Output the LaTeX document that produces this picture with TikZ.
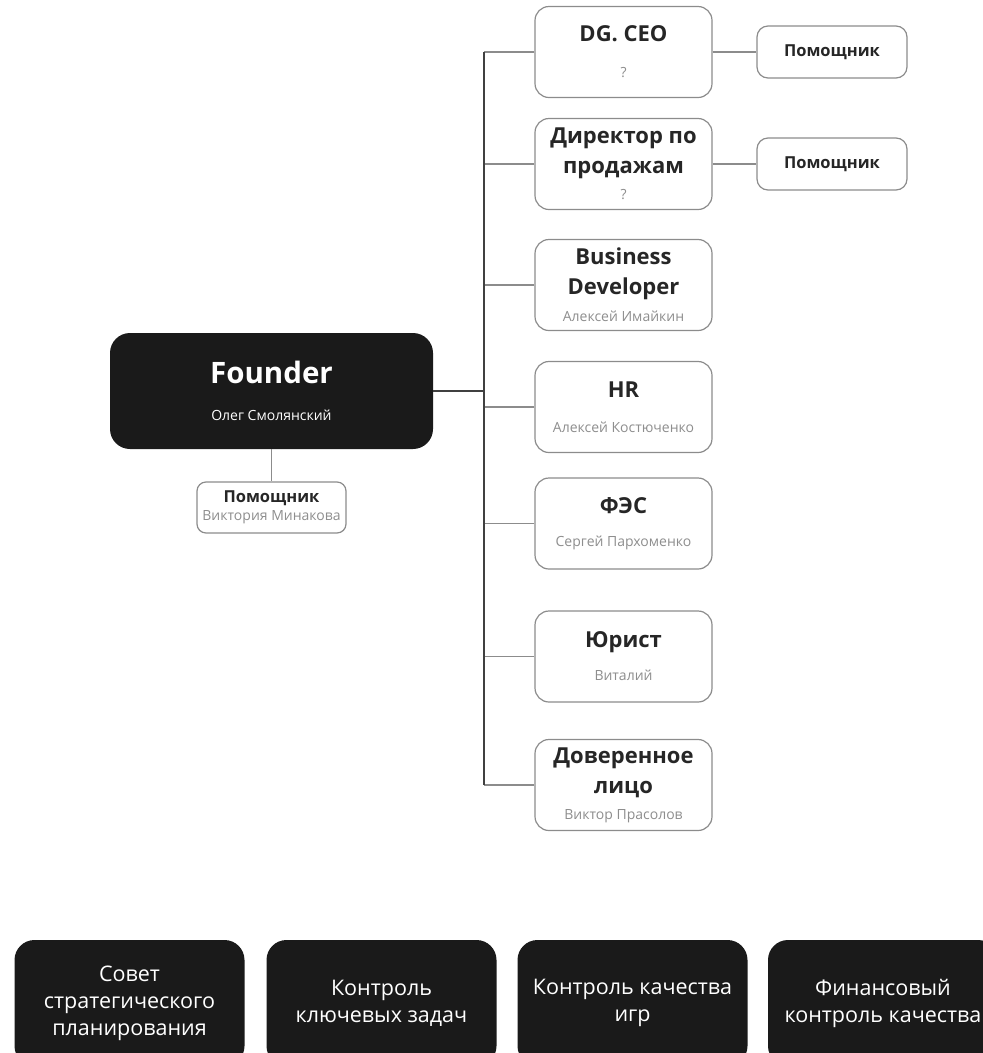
\documentclass[tikz,border=0pt]{standalone}
\usepackage{fontspec}
\setmainfont{Open Sans}
\usetikzlibrary{positioning}

\definecolor{boxblack}{HTML}{1A1A1A}
\definecolor{namegray}{HTML}{8E8E8E}
\definecolor{linegray}{HTML}{8C8C8C}
\definecolor{titletext}{HTML}{262626}

\newcommand*{\titlefont}{\fontsize{22}{30}\selectfont\bfseries\color{titletext}}
\newcommand*{\namefont}{\fontsize{14}{16}\selectfont\color{namegray}}
\newcommand*{\helperfont}{\fontsize{16.5}{18}\selectfont\bfseries\color{titletext}}

\begin{document}
\begin{tikzpicture}[x=1pt,y=-1pt,
  member/.style={draw=linegray,line width=1.2pt,fill=white,rounded corners=14pt,
    minimum width=177pt,minimum height=91pt,align=center,inner sep=0pt,
    font=\fontsize{22}{30}\selectfont},
  helper/.style={draw=linegray,line width=1.2pt,fill=white,rounded corners=11pt,
    minimum width=150pt,minimum height=52pt,align=center,inner sep=0pt,
    font=\fontsize{16.5}{18}\selectfont},
  panel/.style={fill=boxblack,rounded corners=20pt,minimum width=230pt,
    minimum height=126pt,align=center,inner sep=0pt,text=white,
    font=\fontsize{21.5}{27}\selectfont},
  link/.style={draw=linegray,line width=1.2pt},
  trunk/.style={draw=black!75,line width=1.3pt}]
  \useasboundingbox (0,0) rectangle (983,1053);
  \clip (0,0) rectangle (983,1053);
  \pgfmathsetmacro{\trunkx}{484}

  % founder and his assistant
  \node[fill=boxblack,rounded corners=20pt,minimum width=323pt,minimum height=116pt,
    align=center,inner sep=0pt,font=\fontsize{29.5}{37}\selectfont] (Founder) at (271.5,391)
  {{\bfseries\color{white}Founder}\\
    {\fontsize{14}{16}\selectfont\color{white}Олег Смолянский}};
  \node[helper,minimum width=149pt,minimum height=51pt,rounded corners=9pt]
  (Founder Helper) at (271.5,507.5)
  {\helperfont Помощник\\{\fontsize{14}{16}\selectfont\color{namegray}Виктория Минакова}};

  % direct reports
  \node[member] (DG CEO) at (623.5,52)
  {\titlefont DG. CEO\\[6pt]\namefont ?};
  \node[member] (Sales) at (623.5,164)
  {\titlefont Директор по\\\titlefont продажам\\[-4pt]\namefont ?};
  \node[member] (Business) at (623.5,285)
  {\titlefont Business\\\titlefont Developer\\[-3pt]\namefont Алексей Имайкин};
  \node[member] (HR) at (623.5,407)
  {\titlefont HR\\[5pt]\namefont Алексей Костюченко};
  \node[member] (FES) at (623.5,523.5)
  {\titlefont ФЭС\\[3pt]\namefont Сергей Пархоменко};
  \node[member] (Lawyer) at (623.5,656.5)
  {\titlefont Юрист\\[3pt]\namefont Виталий};
  \node[member] (Proxy) at (623.5,785)
  {\titlefont Доверенное\\\titlefont лицо\\[-4pt]\namefont Виктор Прасолов};

  % assistants on the right
  \node[helper] (DG Helper) at (832,52) {\helperfont Помощник};
  \node[helper] (Sales Helper) at (832,164) {\helperfont Помощник};

  % connectors
  \coordinate (Trunk Top) at (\trunkx,52);
  \coordinate (Trunk Bottom) at (\trunkx,785);
  \foreach \who in {DG CEO,Sales,Business,HR,FES,Lawyer,Proxy}
    \draw[link] (\who.west) -- (\who.west -| Trunk Top);
  \draw[trunk] (Trunk Top) -- (Trunk Bottom);
  \draw[trunk] (Founder.east) -- (Founder.east -| Trunk Top);
  \draw[link] (Founder.south) -- (Founder Helper.north);
  \draw[link] (DG CEO.east) -- (DG Helper.west);
  \draw[link] (Sales.east) -- (Sales Helper.west);

  % control panels
  \node[panel] (Strategy) at (129.5,1003)
  {Совет\\стратегического\\планирования};
  \node[panel] (Key Tasks) at (381.5,1003)
  {Контроль\\ключевых задач};
  \node[panel] (Game Quality) at (632.5,1003)
  {Контроль качества\\игр};
  \node[panel] (Finance) at (883,1003)
  {Финансовый\\контроль качества};
\end{tikzpicture}
\end{document}
